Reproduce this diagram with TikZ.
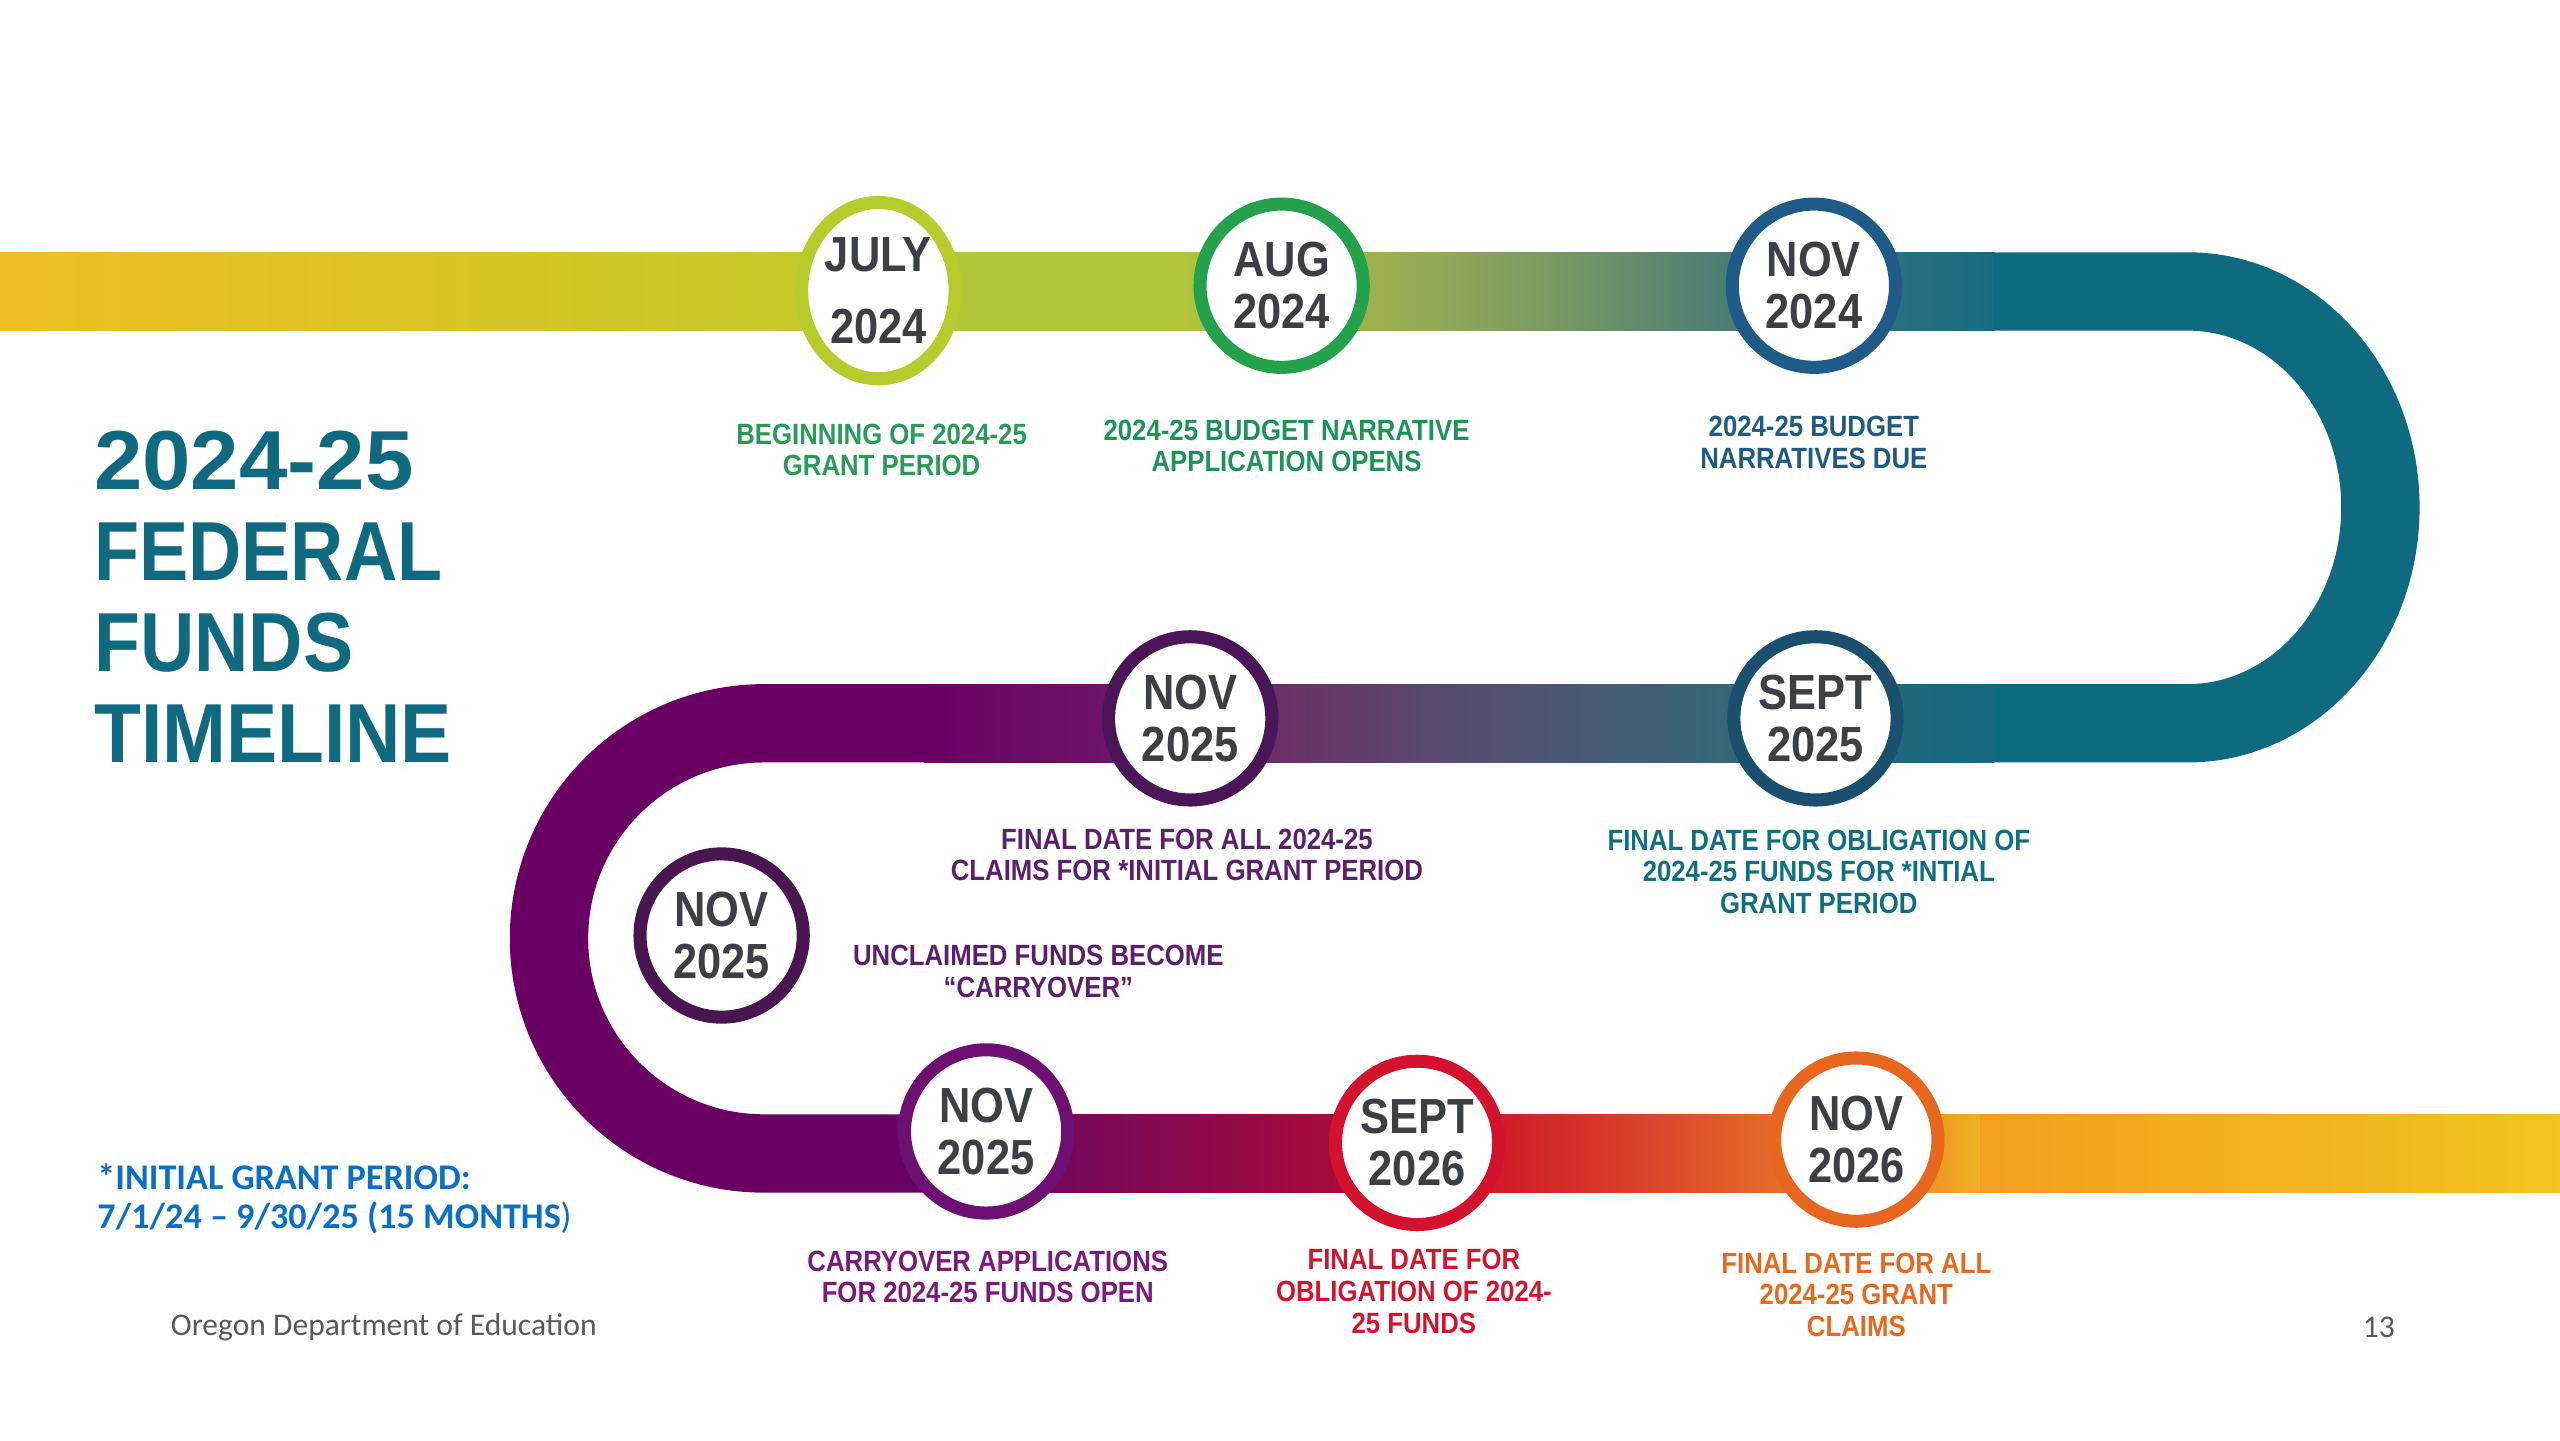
\documentclass[tikz,border=0pt]{standalone}
\usepackage{fontspec}
\setmainfont{Liberation Sans}
\newfontfamily\condfont[FakeStretch=0.88]{Liberation Sans}
\newfontfamily\carlito{Carlito}
\usetikzlibrary{shapes.geometric}

\definecolor{dategray}{HTML}{3C4044}
\definecolor{titleteal}{HTML}{0F6A80}
\definecolor{noteblue}{HTML}{0B6FC6}
\definecolor{footgray}{HTML}{595959}
% band colours
\definecolor{tA}{HTML}{EFBE22}
\definecolor{tB}{HTML}{DCC424}
\definecolor{tC}{HTML}{C6C82A}
\definecolor{tD}{HTML}{B2C53A}
\definecolor{tE}{HTML}{9BAE52}
\definecolor{tF}{HTML}{7A9A62}
\definecolor{tG}{HTML}{4E7E74}
\definecolor{tH}{HTML}{2A7080}
\definecolor{tI}{HTML}{186C80}
\definecolor{bandteal}{HTML}{0E6A7E}
\definecolor{bandpurple}{HTML}{6A0063}
\definecolor{mA}{HTML}{6E1468}
\definecolor{mB}{HTML}{6A3068}
\definecolor{mC}{HTML}{584A70}
\definecolor{mD}{HTML}{465C78}
\definecolor{mE}{HTML}{366678}
\definecolor{mF}{HTML}{14697E}
\definecolor{bA}{HTML}{74085C}
\definecolor{bB}{HTML}{A80A3A}
\definecolor{bC}{HTML}{D0182A}
\definecolor{bD}{HTML}{D8402A}
\definecolor{bE}{HTML}{E4682A}
\definecolor{bF}{HTML}{EE9C22}
\definecolor{bG}{HTML}{F0B426}
\definecolor{bH}{HTML}{F39F20}
\definecolor{bI}{HTML}{F2C41E}
% rings and labels
\definecolor{ringJul}{HTML}{B7CC2C}
\definecolor{ringAug}{HTML}{24A14B}
\definecolor{ringNovA}{HTML}{1E5B87}
\definecolor{ringNovB}{HTML}{4A1657}
\definecolor{ringSepA}{HTML}{1B4F6E}
\definecolor{ringNovC}{HTML}{4A1652}
\definecolor{ringNovD}{HTML}{6E0F72}
\definecolor{ringSepB}{HTML}{D3122E}
\definecolor{ringNovE}{HTML}{E8671E}
\definecolor{lblGreen}{HTML}{2A9A5A}
\definecolor{lblGreenB}{HTML}{1D9455}
\definecolor{lblBlue}{HTML}{1F5A80}
\definecolor{lblPurple}{HTML}{5B1F6B}
\definecolor{lblTeal}{HTML}{11707F}
\definecolor{lblPlum}{HTML}{7A1A7C}
\definecolor{lblRed}{HTML}{D0162E}
\definecolor{lblOrange}{HTML}{E8681E}

\begin{document}
\begin{tikzpicture}[x=0.1mm, y=-0.1mm, line join=round,
	datering/.style={circle, draw=#1, line width=0.8mm, fill=white, minimum size=10mm, inner sep=0pt, align=center, text=dategray, font=\condfont\bfseries\fontsize{8.6}{9.1}\selectfont},
	datelabel/.style={align=center, inner sep=0pt, text=#1, font=\condfont\bfseries\fontsize{5.1}{5.5}\selectfont}]
	\useasboundingbox (0,0) rectangle (1568,882);
	\def\bw{4.8mm}
	% top band
	\foreach \xa/\xb/\ca/\cb in {0/250/tA/tB, 250/480/tB/tC, 480/600/tC/tD, 600/720/tD/tD, 720/850/tD/tE, 850/950/tE/tF, 950/1050/tF/tG, 1050/1160/tG/tH, 1160/1221/tH/tI}
		\shade[left color=\ca, right color=\cb] (\xa,154.5) rectangle (\xb+0.5,202.5);
	\draw[line width=\bw, bandteal] (1221,178.5) -- (1340,178.5) arc[start angle=-90, end angle=90, x radius=118, y radius=132.25] -- (1221,443);
	% middle band
	\foreach \xa/\xb/\ca/\cb in {566/680/bandpurple/mA, 680/786/mA/mB, 786/879/mB/mC, 879/988/mC/mD, 988/1054/mD/mE, 1054/1221/mE/mF}
		\shade[left color=\ca, right color=\cb] (\xa,419) rectangle (\xb+0.5,467);
	\draw[line width=\bw, bandpurple] (566.5,443) -- (468,443) arc[start angle=-90, end angle=-270, radius=131.75] -- (600.5,706.5);
	% bottom band
	\foreach \xa/\xb/\ca/\cb in {600/650/bandpurple/bA, 650/821/bA/bB, 821/912/bB/bC, 912/1000/bC/bD, 1000/1082/bD/bE, 1082/1190/bE/bF, 1190/1213/bF/bG, 1213/1568/bH/bI}
		\shade[left color=\ca, right color=\cb] (\xa,682.5) rectangle (\xb+0.5,730.5);

	% date circles
	\node[datering=ringJul, ellipse, minimum width=9.4mm, minimum height=10.8mm, font=\condfont\bfseries\fontsize{8.6}{12.5}\selectfont] (jul) at (538,178) {JULY\\2024};
	\node[datering=ringAug] (aug) at (785,175) {AUG\\2024};
	\node[datering=ringNovA] (novA) at (1111,175) {NOV\\2024};
	\node[datering=ringNovB] (novB) at (729,440) {NOV\\2025};
	\node[datering=ringSepA] (sepA) at (1112,440) {SEPT\\2025};
	\node[datering=ringNovC] (novC) at (442,573) {NOV\\2025};
	\node[datering=ringNovD] (novD) at (604,693) {NOV\\2025};
	\node[datering=ringSepB] (sepB) at (868,700) {SEPT\\2026};
	\node[datering=ringNovE] (novE) at (1137,698) {NOV\\2026};

	% captions
	\node[datelabel=lblGreen] (lbJul) at (540,275.5) {BEGINNING OF 2024-25\\GRANT PERIOD};
	\node[datelabel=lblGreenB] (lbAug) at (788,273) {2024-25 BUDGET NARRATIVE\\APPLICATION OPENS};
	\node[datelabel=lblBlue] (lbNovA) at (1111,271) {2024-25 BUDGET\\NARRATIVES DUE};
	\node[datelabel=lblPurple] (lbNovB) at (727,523.5) {FINAL DATE FOR ALL 2024-25\\CLAIMS FOR *INITIAL GRANT PERIOD};
	\node[datelabel=lblTeal] (lbSepA) at (1114,534) {FINAL DATE FOR OBLIGATION OF\\2024-25 FUNDS FOR *INTIAL\\GRANT PERIOD};
	\node[datelabel=lblPurple] (lbNovC) at (636,595) {UNCLAIMED FUNDS BECOME\\“CARRYOVER”};
	\node[datelabel=lblPlum] (lbNovD) at (605,782) {CARRYOVER APPLICATIONS\\FOR 2024-25 FUNDS OPEN};
	\node[datelabel=lblRed] (lbSepB) at (866,791) {FINAL DATE FOR\\OBLIGATION OF 2024-\\25 FUNDS};
	\node[datelabel=lblOrange] (lbNovE) at (1137,793) {FINAL DATE FOR ALL\\2024-25 GRANT\\CLAIMS};

	% title and notes
	\node[anchor=north west, align=left, inner sep=0pt, text=titleteal, font=\condfont\bfseries\fontsize{14.6}{15.9}\selectfont] (title) at (57,263) {\scalebox{1.18}[1]{2024-25}\\FEDERAL\\\scalebox{1.02}[1]{FUNDS}\\\scalebox{1.04}[1]{TIMELINE}};
	\node[anchor=west, align=left, inner sep=0pt, text=noteblue, font=\carlito\bfseries\fontsize{6.3}{6.8}\selectfont] (note) at (59,734) {*INITIAL GRANT PERIOD:\\7/1/24 – 9/30/25 (15 MONTHS{\mdseries)}};
	\node[anchor=west, inner sep=0pt, text=footgray, font=\carlito\fontsize{5.5}{6}\selectfont] (org) at (104,813) {Oregon Department of Education};
	\node[inner sep=0pt, text=footgray, font=\carlito\fontsize{5.5}{6}\selectfont] (page) at (1457,813) {13};
\end{tikzpicture}
\end{document}
